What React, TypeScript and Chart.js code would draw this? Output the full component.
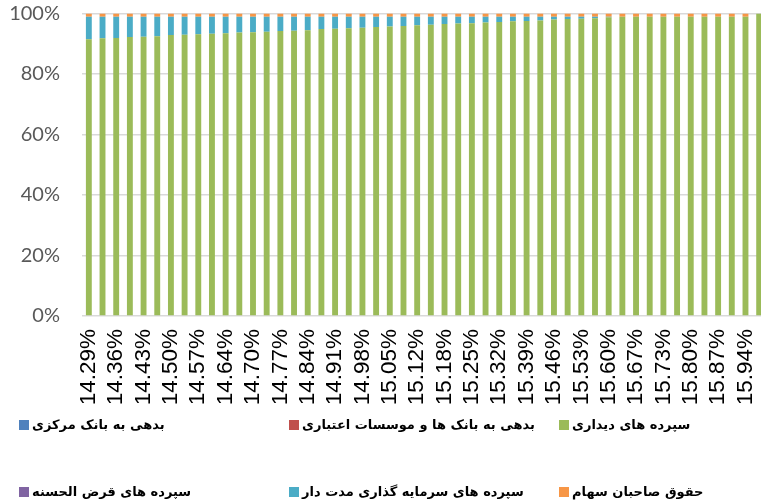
import React, { useEffect, useRef } from "react";
import { Chart, registerables } from "chart.js";

Chart.register(...registerables);

const categories = [
  "14.29%", "14.32%", "14.36%", "14.39%", "14.43%", "14.46%", "14.50%", "14.53%", "14.57%", "14.60%",
  "14.64%", "14.67%", "14.70%", "14.74%", "14.77%", "14.81%", "14.84%", "14.88%", "14.91%", "14.95%",
  "14.98%", "15.01%", "15.05%", "15.08%", "15.12%", "15.15%", "15.18%", "15.22%", "15.25%", "15.29%",
  "15.32%", "15.36%", "15.39%", "15.42%", "15.46%", "15.49%", "15.53%", "15.56%", "15.60%", "15.63%",
  "15.67%", "15.70%", "15.73%", "15.77%", "15.80%", "15.84%", "15.87%", "15.91%", "15.94%", "15.97%",
];

const centralBankDebt = [
  0, 0, 0, 0, 0, 0, 0, 0, 0, 0, 0, 0, 0, 0, 0, 0, 0, 0, 0, 0, 0, 0, 0, 0, 0,
  0, 0, 0, 0, 0, 0, 0, 0, 0, 0, 0, 0, 0, 0, 0, 0, 0, 0, 0, 0, 0, 0, 0, 0, 0,
];

const bankDebt = [
  0, 0, 0, 0, 0, 0, 0, 0, 0, 0, 0, 0, 0, 0, 0, 0, 0, 0, 0, 0, 0, 0, 0, 0, 0,
  0, 0, 0, 0, 0, 0, 0, 0, 0, 0, 0, 0, 0, 0, 0, 0, 0, 0, 0, 0, 0, 0, 0, 0, 0,
];

const demandDeposits = [
  91.5, 91.8, 91.9, 92.2, 92.3, 92.5, 92.9, 93.0, 93.1, 93.3,
  93.5, 93.7, 93.8, 94.0, 94.2, 94.3, 94.5, 94.9, 95.0, 95.1,
  95.3, 95.5, 95.7, 95.9, 96.1, 96.3, 96.5, 96.7, 96.8, 97.0,
  97.2, 97.4, 97.5, 97.7, 98.0, 98.2, 98.3, 98.4, 98.8, 98.9,
  98.9, 98.9, 98.9, 98.9, 98.9, 98.9, 98.9, 98.9, 98.9, 100,
];

const qardHasanDeposits = [
  0, 0, 0, 0, 0, 0, 0, 0, 0, 0, 0, 0, 0, 0, 0, 0, 0, 0, 0, 0, 0, 0, 0, 0, 0,
  0, 0, 0, 0, 0, 0, 0, 0, 0, 0, 0, 0, 0, 0, 0, 0, 0, 0, 0, 0, 0, 0, 0, 0, 0,
];

const termDeposits = [
  7.4, 7.1, 7.0, 6.7, 6.6, 6.4, 6.0, 5.9, 5.8, 5.6,
  5.4, 5.2, 5.1, 4.9, 4.7, 4.6, 4.4, 4.0, 3.9, 3.8,
  3.6, 3.4, 3.2, 3.0, 2.8, 2.6, 2.4, 2.2, 2.1, 1.9,
  1.7, 1.5, 1.4, 1.2, 0.9, 0.7, 0.6, 0.5, 0.1, 0,
  0, 0, 0, 0, 0, 0, 0, 0, 0, 0,
];

const equity = [
  1.1, 1.1, 1.1, 1.1, 1.1, 1.1, 1.1, 1.1, 1.1, 1.1,
  1.1, 1.1, 1.1, 1.1, 1.1, 1.1, 1.1, 1.1, 1.1, 1.1,
  1.1, 1.1, 1.1, 1.1, 1.1, 1.1, 1.1, 1.1, 1.1, 1.1,
  1.1, 1.1, 1.1, 1.1, 1.1, 1.1, 1.1, 1.1, 1.1, 1.1,
  1.1, 1.1, 1.1, 1.1, 1.1, 1.1, 1.1, 1.1, 1.1, 0,
];

const yTicks = [0, 20, 40, 60, 80, 100];

const seriesNames = [
  "بدهی به بانک مرکزی",
  "بدهی به بانک ها و موسسات اعتباری",
  "سپرده های دیداری",
  "سپرده های قرض الحسنه",
  "سپرده های سرمایه گذاری مدت دار",
  "حقوق صاحبان سهام",
];
const seriesColors = ["#4F81BD", "#C0504D", "#9BBB59", "#8064A2", "#4BACC6", "#F79646"];
const seriesData = [centralBankDebt, bankDebt, demandDeposits, qardHasanDeposits, termDeposits, equity];

function zeroPadding(s: any) {
  s.paddingLeft = 0;
  s.paddingRight = 0;
  s.paddingTop = 0;
  s.paddingBottom = 0;
}

export default function App() {
  const ref = useRef<HTMLCanvasElement>(null);

  useEffect(() => {
    const chart = new Chart(ref.current as HTMLCanvasElement, {
      type: "bar",
      data: {
        labels: categories,
        datasets: seriesNames.map((name, i) => ({
          label: name,
          data: seriesData[i],
          backgroundColor: seriesColors[i],
          borderWidth: 0,
          categoryPercentage: 1,
          barPercentage: 0.43,
        })),
      },
      options: {
        animation: false,
        responsive: false,
        maintainAspectRatio: false,
        layout: { padding: { top: 13.5, right: 6, left: 0, bottom: 0 } },
        plugins: { legend: { display: false }, tooltip: { enabled: false } },
        scales: {
          x: {
            stacked: true,
            offset: true,
            grid: { display: false },
            border: { display: false },
            ticks: {
              autoSkip: false,
              maxRotation: 90,
              minRotation: 90,
              padding: 5,
              color: "#000000",
              font: { family: "'Liberation Sans', Arial, sans-serif", size: 22.5 },
              callback: (_v: any, i: number) => (i % 2 === 0 ? categories[i] : ""),
            },
            afterFit: (s: any) => {
              s.height = 188;
              zeroPadding(s);
            },
          },
          y: {
            stacked: true,
            min: 0,
            max: 100,
            afterBuildTicks: (s: any) => {
              s.ticks = yTicks.map((v) => ({ value: v }));
            },
            ticks: {
              padding: 22,
              color: "#595959",
              font: { family: "Lato, 'Open Sans', sans-serif", size: 20 },
              callback: (v: any) => v + "%",
            },
            grid: { color: "#d9d9d9", lineWidth: 1.5, drawTicks: false },
            border: { display: false },
            afterFit: (s: any) => {
              s.width = 82;
              zeroPadding(s);
            },
          },
        },
      },
    });
    return () => chart.destroy();
  }, []);

  const cols = [19, 289, 559];
  const rows = [424.5, 491.5];

  return (
    <div
      style={{
        position: "fixed",
        left: 0,
        top: 0,
        width: 761,
        height: 504,
        overflow: "hidden",
        background: "#ffffff",
      }}
    >
      <canvas ref={ref} width={772} height={504} style={{ display: "block" }} />
      {seriesNames.map((name, i) => (
        <div
          key={name}
          style={{
            position: "absolute",
            left: cols[i % 3],
            top: rows[Math.floor(i / 3)] - 10,
            height: 20,
            display: "flex",
            alignItems: "center",
            whiteSpace: "nowrap",
          }}
        >
          <span style={{ width: 10, height: 10, background: seriesColors[i], display: "inline-block" }} />
          <span
            dir="rtl"
            style={{
              marginLeft: 3,
              fontFamily: "'DejaVu Sans', sans-serif",
              fontWeight: "bold",
              fontSize: 13,
              color: "#000000",
            }}
          >
            {name}
          </span>
        </div>
      ))}
    </div>
  );
}
